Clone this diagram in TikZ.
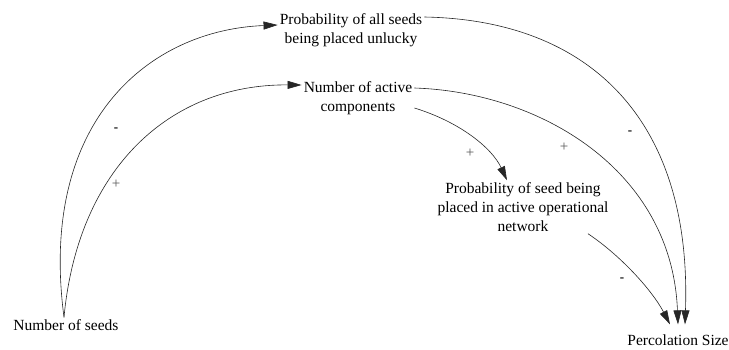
\documentclass[tikz,border=0pt]{standalone}
\usepackage{fontspec}
\setmainfont{Liberation Serif}
\usetikzlibrary{arrows.meta}
\begin{document}
\begin{tikzpicture}[x=1pt,y=-1pt,
  var/.style={inner sep=2pt, align=center, font=\fontsize{15.5}{19}\selectfont},
  link/.style={draw=black!85, line width=0.6pt, -{Triangle[length=14pt,width=8pt]}},
  pol/.style={inner sep=0pt, font=\fontsize{15}{15}\selectfont, text=black!65},
  neg/.style={inner sep=0pt, font=\fontsize{13}{13}\selectfont\bfseries, text=black}]
\useasboundingbox (0,0) rectangle (729,349);
\node[var] (nseeds) at (66,325) {Number of seeds};
\node[var] (allseeds) at (351,30) {Probability of all seeds\\being placed unlucky};
\node[var] (active) at (358,98) {Number of active\\components};
\node[var] (pseed) at (523,207) {Probability of seed being\\placed in active operational\\network};
\node[var] (perc) at (678,340) {Percolation Size};

\draw[link] ([xshift=-2pt]nseeds.north) .. controls (38,120) and (150,30) .. ([yshift=5pt]allseeds.west);
\draw[link] ([xshift=-2pt]nseeds.north) .. controls (78,168) and (170,84) .. ([yshift=13pt]active.west);
\draw[link] ([yshift=13pt]allseeds.east) .. controls (590,20) and (692,120) .. ([xshift=7pt,yshift=8pt]perc.north);
\draw[link] ([yshift=10pt]active.east) .. controls (540,92) and (672,170) .. ([yshift=8pt]perc.north);
\draw[link] ([yshift=-10pt]active.east) .. controls (460,122) and (492,148) .. ([xshift=-16pt]pseed.north);
\draw[link] ([xshift=65pt]pseed.south) .. controls (620,255) and (652,290) .. ([xshift=-8pt,yshift=8pt]perc.north);

\node[neg] (p1) at (116,130) {-};
\node[pol] (p2) at (116,184) {+};
\node[pol] (p3) at (470,153) {+};
\node[pol] (p4) at (564,147) {+};
\node[neg] (p5) at (630,133) {-};
\node[neg] (p6) at (622,280) {-};
\end{tikzpicture}
\end{document}
